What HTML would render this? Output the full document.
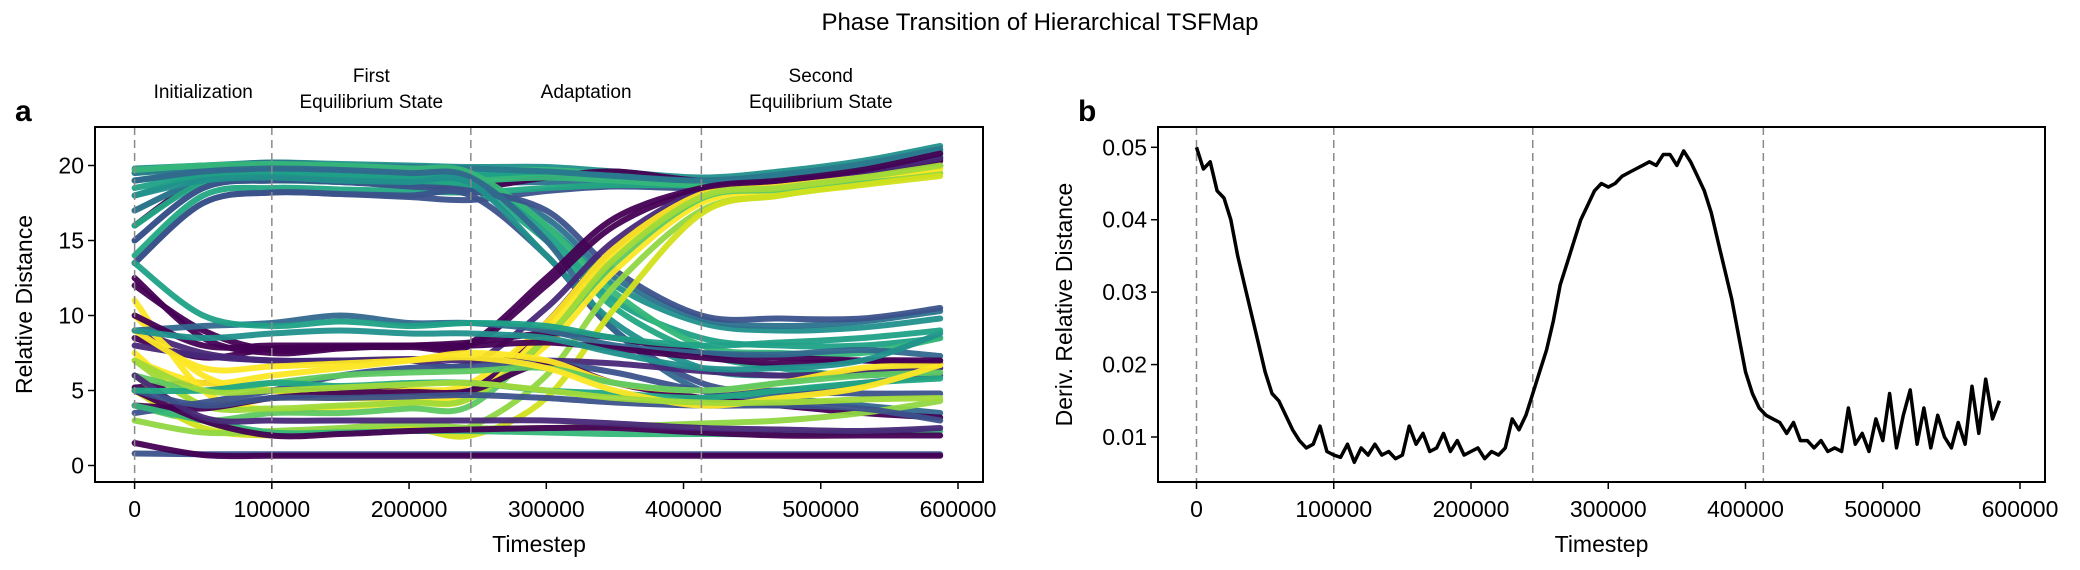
<!DOCTYPE html>
<html><head><meta charset="utf-8"><style>
html,body{margin:0;padding:0;background:#fff;}
svg{display:block;font-family:"Liberation Sans",Arial,sans-serif;}
</style></head><body>
<svg id="fig" width="2080" height="570" viewBox="0 0 2080 570" xmlns="http://www.w3.org/2000/svg">
<text x="1040" y="30" text-anchor="middle" font-size="24">Phase Transition of Hierarchical TSFMap</text>
<g id="pa"></g>
<g id="pb"></g>
</svg>
<script>
// ---------- data ----------
const phaseBounds = [0, 100000, 245000, 413000];
const phaseLabels = [["Initialization"],["First","Equilibrium State"],["Adaptation"],["Second","Equilibrium State"]];
const xTicks = [0,100000,200000,300000,400000,500000,600000];
const yTicksA = [0,5,10,15,20];
const yTicksB = [0.01,0.02,0.03,0.04,0.05];
const knotT = [0,50000,100000,150000,200000,245000,300000,350000,413000,470000,530000,587000];
const lineColors = ["#21918c","#35b779","#21918c","#2c728e","#3b528b","#440154","#1fa187","#22a884","#35b779","#2a788e",
"#3b528b","#21918c","#2c728e","#1fa187","#22a884","#35b779","#3b528b","#31688e","#21918c",
"#440154","#440154","#fde725","#fde725","#90d743","#5ec962","#482878","#fde725","#d2e21b","#440154","#a0da39",
"#440154","#482878","#3b528b","#440154","#31688e","#fde725","#5ec962","#90d743","#35b779","#440154","#482878","#3b528b","#22a884","#fde725","#440154","#a0da39","#21918c","#1fa187",
"#3b528b","#440154"];
const lineValues = [
[19.8,20,20.2,20.1,20,19.9,19.9,19.6,19.2,19.6,20.3,21.3],
[19.5,19.8,20,19.9,19.8,19.7,19.7,19.4,19,19.4,20.1,21],
[18,19.3,19.6,19.5,19.3,19.3,19.3,19.1,18.8,19.2,19.9,20.8],
[15,18.5,19,18.9,18.7,18.8,18.9,18.8,18.6,19,19.7,20.6],
[13.5,17.5,18.2,18.1,17.9,17.7,18.3,18.6,18.5,18.9,19.6,20.4],
[16,19,19.1,19,18.8,18.5,19.2,19.6,19,19.3,19.8,20.5],
[19,19.5,19.7,19.6,19.5,19.4,19.5,19.3,18.9,19.3,20,21],
[14,18,18.5,18.4,18.3,18.2,18.5,18.7,18.7,19.1,19.8,20.7],
[17,19,19.4,19.3,19.1,19,19.2,19,18.7,19.1,19.8,20.9],
[19.5,19.9,20.2,20,19.9,19.8,19.6,19.3,19,19.4,20.1,21.1],
[13.5,17.5,18.2,18.1,18,18,14,9,5.5,5,5.5,6],
[19,19.5,19.6,19.5,19.3,19,16,12,9.5,9,9.2,9.8],
[17,19,19.3,19.2,19,18.8,16.5,12.5,9.8,9.3,9.6,10.3],
[18.5,19.3,19.5,19.4,19.2,19,15.5,11,8.5,8,8,8.5],
[16,18.8,19,18.9,18.7,18.5,15,10.5,7.5,6.5,6,6.5],
[19.7,20,20.1,20,19.8,19.5,16,11.5,8,7.5,7.5,8.5],
[15,18.5,19,18.9,18.6,18.3,17,13,10,9.8,9.8,10.5],
[19,19.6,19.8,19.7,19.5,19.2,15,9,5,4.5,4,3.5],
[18,19,19.2,19,18.9,18.8,14,9.5,6.5,6,6.2,7],
[8.5,7.2,7.8,7.9,7.9,8,12,16,18.4,18.9,19.5,20.3],
[5.2,5.5,5,5,5,5,9.5,14.5,18.2,18.7,19.4,20],
[11,5,3.7,3.9,4.2,4.5,9,14,17.8,18.5,19,19.8],
[7.5,4,4.5,4.5,4.5,4.8,8,13,17.5,18.2,18.9,19.5],
[6,3,2.2,2.3,2.4,2.6,6,12,17,18,18.8,19.5],
[4,3,3.5,3.5,3.8,4,8.5,13.5,17.8,18.4,19.1,19.9],
[9,7.5,7,7,7,6.8,10.5,15,18.3,18.8,19.5,20.5],
[10,6,5,4.8,5,5.5,9.5,14.5,18.1,18.6,19.2,19.8],
[5,2.5,2,2.2,2.5,2,4.5,10.5,16.8,18,18.7,19.3],
[12.5,8.5,7.5,7.8,8,8.2,12.5,16.5,18.5,19,19.7,20.8],
[7,4,3.8,4,4.2,4.5,8.5,13.8,17.9,18.5,19.2,20],
[12,9,7.7,7.9,8,8.2,8.8,8.5,7.5,7.2,7,6.8],
[8,7.3,7,7,7.1,7,7,6.8,6.3,6,6.2,6.5],
[3.5,4.2,5,6,6.5,6.6,6.8,6.2,5,4.9,4.8,4.8],
[4,3.8,4.5,4.8,4.9,5,6.8,5.5,4.5,4,3.5,3.2],
[9,9.3,9.5,10,9.5,9.5,9,8,7.5,7.4,7.7,7.3],
[7,5.5,6,6.5,7,7.5,7,5.5,5,5.5,6.5,6.7],
[6,5,5.5,6,6.2,6.3,6.5,5.5,5,5.5,6,6.2],
[3,2.2,2.3,2.5,2.8,2.5,2.5,2.6,2.8,3,3.5,4.3],
[4,3,2.2,2.2,2.3,2.3,2.2,2.1,2.1,2.1,2.2,2.3],
[5,3,2,2.1,2.3,2.4,2.5,2.5,2.2,2,2,2],
[6,3.2,3,3,3,3,3,2.8,2.5,2.4,2.3,2.5],
[5,4,4.5,4.5,4.6,4.7,4.5,4.2,4,4,3.8,3],
[5,5,5.5,5.3,5.5,5.5,5,4.8,4.5,5,5.5,5.8],
[9,6.5,6.6,6.8,7,7.2,6.5,5,4,4.5,5.2,6.7],
[10,8,8,8,8,8,8.2,7.8,7.2,6.8,7,7],
[7,5,5,5.2,5.4,5.5,5,4.5,4.2,4.2,4.4,4.5],
[9,8.5,8.8,9,8.8,8.8,8.5,7.5,6.5,6.5,7,8.8],
[13.5,10,9.3,9.6,9.3,9.5,9.3,8.5,8,8.2,8.5,9],
[0.8,0.75,0.75,0.75,0.75,0.75,0.75,0.75,0.75,0.75,0.75,0.75],
[1.5,0.7,0.65,0.65,0.65,0.65,0.65,0.65,0.65,0.65,0.65,0.65]
];
const derivStep = 5000;
const derivValues = [0.050,0.047,0.048,0.044,0.043,0.040,0.035,0.031,0.027,0.023,0.019,0.016,0.015,0.013,0.011,0.0095,0.0085,0.009,0.0115,0.008,
0.0075,0.0072,0.009,0.0065,0.0085,0.0075,0.009,0.0075,0.008,0.007,0.0075,0.0115,0.009,0.0105,0.008,0.0085,0.0105,0.008,0.0095,0.0075,
0.008,0.0085,0.007,0.008,0.0075,0.0085,0.0125,0.011,0.013,0.016,0.019,0.022,0.026,0.031,0.034,0.037,0.040,0.042,0.044,0.045,
0.0445,0.045,0.046,0.0465,0.047,0.0475,0.048,0.0475,0.049,0.049,0.0475,0.0495,0.048,0.046,0.044,0.041,0.037,0.033,0.029,0.024,
0.019,0.016,0.014,0.013,0.0125,0.012,0.0105,0.012,0.0095,0.0095,0.0085,0.0095,0.008,0.0085,0.008,0.014,0.009,0.0105,0.008,0.0125,
0.0095,0.016,0.0085,0.013,0.0165,0.009,0.014,0.0085,0.013,0.010,0.0085,0.012,0.009,0.017,0.0105,0.018,0.0125,0.015];

// ---------- helpers ----------
const NS="http://www.w3.org/2000/svg";
function mk(parent,tag,attrs,text){const e=document.createElementNS(NS,tag);for(const k in attrs)e.setAttribute(k,attrs[k]);if(text!==undefined)e.textContent=text;parent.appendChild(e);return e;}
function lin(d0,d1,r0,r1){return v=>r0+(v-d0)/(d1-d0)*(r1-r0);}
function smoothPath(pts){let d="M"+pts[0][0].toFixed(1)+","+pts[0][1].toFixed(1);
 for(let i=0;i<pts.length-1;i++){const p0=pts[Math.max(0,i-1)],p1=pts[i],p2=pts[i+1],p3=pts[Math.min(pts.length-1,i+2)];
  const c1x=p1[0]+(p2[0]-p0[0])/6,c1y=p1[1]+(p2[1]-p0[1])/6,c2x=p2[0]-(p3[0]-p1[0])/6,c2y=p2[1]-(p3[1]-p1[1])/6;
  d+=" C"+c1x.toFixed(1)+","+c1y.toFixed(1)+" "+c2x.toFixed(1)+","+c2y.toFixed(1)+" "+p2[0].toFixed(1)+","+p2[1].toFixed(1);}
 return d;}

function drawAxes(g,L,R,T,B,sx,sy,yTicks,ylabel,letter,yLabelX,tickDec){
 phaseBounds.forEach(b=>{const l=mk(g,"line",{x1:sx(b),x2:sx(b),y1:T,y2:B,stroke:"#8a8a8a","stroke-width":1.5,"stroke-dasharray":"8,5"});
  
  });
 xTicks.forEach(t=>{const x=sx(t);mk(g,"line",{x1:x,x2:x,y1:B,y2:B+7,stroke:"#000","stroke-width":1.5});
  const tx=mk(g,"text",{x:x,y:B+35,"text-anchor":"middle","font-size":23},String(t));
  
  });
 yTicks.forEach(v=>{const y=sy(v);mk(g,"line",{x1:L-7,x2:L,y1:y,y2:y,stroke:"#000","stroke-width":1.5});
  const tx=mk(g,"text",{x:L-11,y:y+8,"text-anchor":"end","font-size":23},tickDec?v.toFixed(2):String(v));
  
  });
 const fr=mk(g,"rect",{x:L,y:T,width:R-L,height:B-T,fill:"none",stroke:"#000","stroke-width":2});
 
 
 const xl=mk(g,"text",{x:(L+R)/2,y:B+70,"text-anchor":"middle","font-size":23},"Timestep");
 
 
 const cy=(T+B)/2;
 const yl=mk(g,"text",{x:yLabelX,y:cy,"text-anchor":"middle","font-size":23,transform:"rotate(-90 "+yLabelX+" "+cy+")"},ylabel);
 
 
 const lt=mk(g,"text",{x:L-80,y:121,"font-size":30,"font-weight":"bold"},letter);
 
 
}

// ---------- panel a ----------
(function(){
 const g=document.getElementById("pa");
 const L=95,R=983,T=127,B=482;
 const sx=lin(0,600000,134.6,958), sy=lin(0,20,465.5,165.5);
 const lines=mk(g,"g",{});
 
 
 lineValues.forEach((vals,i)=>{
  const pts=vals.map((v,j)=>[sx(knotT[j]),sy(v)]);
  const p=mk(lines,"path",{d:smoothPath(pts),fill:"none",stroke:lineColors[i],"stroke-width":6,"stroke-linecap":"round","stroke-linejoin":"round","stroke-opacity":0.95});
  
  
 });
 drawAxes(g,L,R,T,B,sx,sy,yTicksA,"Relative Distance","a",32,false);
 for(let i=0;i<phaseLabels.length;i++){
  const next=i<phaseBounds.length-1?phaseBounds[i+1]:587000;
  const cx=(sx(phaseBounds[i])+sx(next))/2;
  const lab=phaseLabels[i];
  const ys=lab.length===1?[98]:[82,108];
  lab.forEach((s,k)=>{const t=mk(g,"text",{x:cx,y:ys[k],"text-anchor":"middle","font-size":19},s);
   
   });
 }
})();

// ---------- panel b ----------
(function(){
 const g=document.getElementById("pb");
 const L=1158,R=2045,T=127,B=482;
 const sx=lin(0,600000,1196.5,2020), sy=lin(0.01,0.05,437,147.3);
 drawAxes(g,L,R,T,B,sx,sy,yTicksB,"Deriv. Relative Distance","b",1072,true);
 let d="";
 derivValues.forEach((v,i)=>{d+=(i?"L":"M")+sx(i*derivStep).toFixed(1)+","+sy(v).toFixed(1)+" ";});
 const p=mk(g,"path",{d:d,fill:"none",stroke:"#000","stroke-width":3.5,"stroke-linejoin":"round"});
 
 
})();
</script>
</body></html>
